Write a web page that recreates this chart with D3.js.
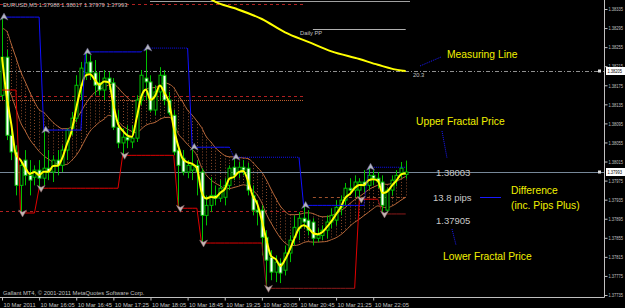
<!DOCTYPE html>
<html><head><meta charset="utf-8">
<script src="https://cdn.jsdelivr.net/npm/d3@7"></script>
<style>
html,body{margin:0;padding:0;background:#000;overflow:hidden;}
svg{display:block;}
text{font-family:"Liberation Sans",Arial,sans-serif;}
</style></head><body>
<svg id="c" width="625" height="308"></svg>
<script>
// ---------- DATA ----------
const opens = [1.38154,1.38234,1.38070,1.38035,1.37965,1.38018,1.37986,1.37982,1.37997,1.37980,
1.38001,1.37993,1.38018,1.38007,1.38039,1.38085,1.38106,1.38175,1.38201,1.38224,
1.38201,1.38180,1.38165,1.38190,1.38180,1.38087,1.38054,1.38066,1.38056,1.38064,
1.38144,1.38190,1.38182,1.38123,1.38161,1.38196,1.38144,1.38112,1.38039,1.38022,
1.37993,1.37997,1.38007,1.37993,1.37902,1.37923,1.37944,1.37938,1.37940,1.37965,
1.38003,1.37993,1.38003,1.38001,1.37944,1.37913,1.37913,1.37856,1.37814,1.37783,
1.37802,1.37787,1.37823,1.37856,1.37875,1.37896,1.37892,1.37888,1.37854,1.37860,
1.37871,1.37888,1.37892,1.37919,1.37934,1.37959,1.37955,1.37955,1.37972,1.37965,
1.37986,1.37980,1.37972,1.37913,1.37955,1.37976,1.37991,1.37988];
const highs = [1.38318,1.38249,1.38085,1.38049,1.38018,1.38039,1.38018,1.38007,1.38018,1.38081,
1.38039,1.38028,1.38039,1.38049,1.38085,1.38119,1.38196,1.38224,1.38245,1.38238,
1.38228,1.38203,1.38207,1.38203,1.38190,1.38123,1.38085,1.38091,1.38091,1.38154,
1.38207,1.38253,1.38196,1.38175,1.38213,1.38207,1.38161,1.38123,1.38049,1.38039,
1.38018,1.38045,1.38018,1.38001,1.37944,1.37982,1.37965,1.37976,1.37980,1.38007,
1.38024,1.38014,1.38018,1.38012,1.37965,1.37934,1.37923,1.37871,1.37829,1.37818,
1.37812,1.37839,1.37860,1.37902,1.37909,1.37923,1.37913,1.37896,1.37875,1.37881,
1.37902,1.37917,1.37934,1.37944,1.37970,1.37980,1.37986,1.37980,1.37997,1.38003,
1.37997,1.37993,1.37986,1.37959,1.37986,1.37997,1.38014,1.38017];
const lows = [1.38144,1.38060,1.38018,1.37944,1.37907,1.37965,1.37944,1.37965,1.37959,1.37965,
1.37976,1.37972,1.37986,1.37993,1.38018,1.38070,1.38098,1.38144,1.38186,1.38186,
1.38154,1.38154,1.38144,1.38165,1.38081,1.38043,1.38028,1.38043,1.38043,1.38056,
1.38133,1.38144,1.38119,1.38112,1.38144,1.38133,1.38112,1.38028,1.37917,1.37986,
1.37980,1.37976,1.37944,1.37844,1.37881,1.37909,1.37923,1.37930,1.37923,1.37955,
1.37976,1.37980,1.37986,1.37944,1.37902,1.37881,1.37818,1.37749,1.37766,1.37762,
1.37760,1.37776,1.37804,1.37839,1.37850,1.37875,1.37860,1.37839,1.37846,1.37850,
1.37854,1.37875,1.37881,1.37902,1.37923,1.37944,1.37940,1.37936,1.37951,1.37955,
1.37965,1.37959,1.37905,1.37907,1.37944,1.37963,1.37980,1.37979];
const closes = [1.38234,1.38070,1.38035,1.37965,1.38007,1.37986,1.37976,1.37997,1.37980,1.38001,
1.37993,1.38018,1.38007,1.38039,1.38081,1.38106,1.38175,1.38211,1.38222,1.38201,
1.38175,1.38165,1.38190,1.38180,1.38087,1.38054,1.38066,1.38060,1.38064,1.38144,
1.38196,1.38182,1.38123,1.38161,1.38196,1.38144,1.38117,1.38035,1.38007,1.37993,
1.38007,1.38007,1.37993,1.37902,1.37923,1.37944,1.37938,1.37959,1.37965,1.38001,
1.37986,1.38003,1.37997,1.37955,1.37913,1.37909,1.37856,1.37808,1.37783,1.37804,
1.37781,1.37823,1.37850,1.37877,1.37896,1.37888,1.37871,1.37854,1.37860,1.37871,
1.37888,1.37902,1.37919,1.37934,1.37959,1.37955,1.37972,1.37972,1.37965,1.37986,
1.37980,1.37972,1.37923,1.37955,1.37976,1.37986,1.38001,1.37993];

const upperFractalBars = [0, 9, 18, 31, 41, 50, 65, 79];
const lowerFractalBars = [4, 8, 26, 38, 43, 57, 77, 82];
const priorLowerLevel = 1.38165;
// band indicator levels carried in from before the first visible bar
const bandStartUpper = 1.38291, bandStartLower = 1.38200;

// long moving average (sparse readings: bar index, price)
const longMA = [[44,1.38362],[46,1.38350],[50,1.38337],[56,1.38314],[61,1.38286],[66,1.38266],[71,1.38246],[77,1.38230],[81,1.38218],[86,1.38206],[87,1.38205]];

const xTickBars = [0,8,16,24,32,40,48,56,64,72,80];
const xTickLabels = ["10 Mar 2011","10 Mar 16:05","10 Mar 16:45","10 Mar 17:25","10 Mar 18:05","10 Mar 18:45","10 Mar 19:25","10 Mar 20:05","10 Mar 20:45","10 Mar 21:25","10 Mar 22:05"];
const yTicks = [1.38335,1.38295,1.38255,1.38215,1.38175,1.38135,1.38095,1.38055,1.38015,1.37975,1.37935,1.37895,1.37855,1.37815,1.37775,1.37735];

const bidPrice = 1.37993;
const measuringLevel = 1.38205;
const dailyPP = 1.38293;
const prevLevelsRed = [1.38346, 1.38152, 1.37911];
const prevLevelOrange = 1.38144;
const topGrey = 1.38352;
const dayLevelBrown = 1.37940;
const titleText = "EURUSD,M5  1.37988 1.38017 1.37979 1.37993";
const upperFractalPrice = "1.38003", lowerFractalPrice = "1.37905", diffText = "13.8 pips", measureVal = "20.3";

// ---------- CHART ----------
const W = 625, H = 308, plotR = 604, plotB = 297;
const svg = d3.select("#c");
svg.append("rect").attr("width",W).attr("height",H).attr("fill","#000");
const n = closes.length;
const x = d3.scaleLinear().domain([0, 87]).range([2, 405.7]);
const y = d3.scaleLinear().domain([1.37735, 1.38335]).range([295, 9]);

svg.append("clipPath").attr("id","pc").append("rect").attr("x",0).attr("y",0).attr("width",plotR).attr("height",plotB);
const g = svg.append("g").attr("clip-path","url(#pc)");

function ema(arr, p, seed){ const a = 2/(p+1); const o=[]; let prev = seed;
  arr.forEach((v,i)=>{ const e = (prev==null) ? v : a*v+(1-a)*prev; o.push(e); prev = e; }); return o; }
const fast = ema(closes, 3, null);
const bandUp = ema(highs, 14, bandStartUpper);
const bandLo = ema(lows, 14, bandStartLower);

// horizontal levels
function hline(p, x1, x2, color, dash, w){
  g.append("line").attr("x1",x1).attr("x2",x2).attr("y1",Math.round(y(p))+0.5).attr("y2",Math.round(y(p))+0.5)
   .attr("stroke",color).attr("stroke-width",w||1).attr("stroke-dasharray",dash||null);
}
hline(topGrey, 150, 410, "#a0a0a0");
prevLevelsRed.forEach(p=>hline(p, 0, x(65), "#b02020", "3,3"));
hline(prevLevelOrange, 0, x(65), "#c06030", "1,1");
hline(dailyPP, x(67), x(87), "#b0b0b0");
hline(dayLevelBrown, x(67), x(87), "#a0522d", "3,3");
hline(measuringLevel, 0, plotR, "#909090", "4,2,1,2");

// hatch band
const hatch = g.append("g");
d3.range(n).forEach(i=>{
  hatch.append("line").attr("x1",Math.round(x(i))+0.5).attr("x2",Math.round(x(i))+0.5)
    .attr("y1",y(bandUp[i])).attr("y2",y(bandLo[i]))
    .attr("stroke","#8b4a2b").attr("stroke-dasharray","1,2");
});
const bl = d3.line().x((d,i)=>x(i)).y(d=>y(d)).curve(d3.curveMonotoneX);
g.append("path").attr("d",bl(bandUp)).attr("fill","none").attr("stroke","#b8683a").attr("stroke-width",1);
g.append("path").attr("d",bl(bandLo)).attr("fill","none").attr("stroke","#b8683a").attr("stroke-width",1);

// bid line
hline(bidPrice, 0, plotR, "#778899");

// candles
const cg = g.append("g");
d3.range(n).forEach(i=>{
  const cx = Math.round(x(i))+0.5;
  cg.append("line").attr("x1",cx).attr("x2",cx).attr("y1",y(highs[i])).attr("y2",y(lows[i])).attr("stroke","#00c000");
  const bear = closes[i] < opens[i];
  const top = y(Math.max(opens[i],closes[i])), bot = y(Math.min(opens[i],closes[i]));
  cg.append("rect").attr("x",cx-1.5).attr("y",top).attr("width",3).attr("height",Math.max(1,bot-top))
    .attr("fill", bear ? "#ffffff" : "#000000").attr("stroke","#00c000").attr("stroke-width",1);
});

// fast MA
g.append("path").attr("d",d3.line().x((d,i)=>x(i)).y(d=>y(d)).curve(d3.curveMonotoneX)(fast))
  .attr("fill","none").attr("stroke","#ffff00").attr("stroke-width",2);

// long MA
g.append("path").attr("d",d3.line().x(d=>x(d[0])).y(d=>y(d[1])).curve(d3.curveMonotoneX)(longMA))
  .attr("fill","none").attr("stroke","#ffff00").attr("stroke-width",2);

// fractal step lines, drawn segment by segment
function stepSegments(bars, src, prior, color, dottedSet, darkSet, darkColor){
  const starts = prior!=null ? [{b:0, v:prior, k:-1}] : [];
  bars.forEach((b,k)=>starts.push({b, v:src[b], k}));
  starts.forEach((s,j)=>{
    const end = j+1<starts.length ? starts[j+1] : null;
    const pts = [];
    const from = j>0 ? Math.max(0, s.b-1) : s.b;
    if (j>0) pts.push([starts[j-1].v, Math.max(0,s.b-1)]);
    const last = end ? end.b-1 : n-1;
    for (let i=s.b;i<=last;i++) pts.push([s.v,i]);
    const col = darkSet.includes(s.k) ? darkColor : color;
    g.append("path").attr("d", d3.line().x(d=>x(d[1])).y(d=>y(d[0]))(pts))
      .attr("fill","none").attr("stroke",col).attr("stroke-width",1)
      .attr("stroke-dasharray", dottedSet.includes(s.k) ? "1,1" : null);
  });
}
stepSegments(upperFractalBars, highs, null, "#1010ff", [3,5,7], [], null);
stepSegments(lowerFractalBars, lows, priorLowerLevel, "#e00000", [], [5,7], "#8b1a1a");

// arrows
upperFractalBars.forEach(b=>{
  const cx = x(b)+2, cy = y(highs[b]);
  g.append("path").attr("d",`M${cx},${cy-4}L${cx+4},${cy+3}L${cx},${cy+1}L${cx-4},${cy+3}Z`).attr("fill","#b4b4c4").attr("stroke","#606080").attr("stroke-width",0.5);
});
lowerFractalBars.forEach(b=>{
  const cx = x(b)+2, cy = y(lows[b]);
  g.append("path").attr("d",`M${cx},${cy+4}L${cx+4},${cy-3}L${cx},${cy-1}L${cx-4},${cy-3}Z`).attr("fill","#c4b4b4").attr("stroke","#806060").attr("stroke-width",0.5);
});

// axes
const axC = "#c0c0c0";
svg.append("line").attr("x1",0).attr("x2",plotR+0.5).attr("y1",plotB+0.5).attr("y2",plotB+0.5).attr("stroke",axC);
svg.append("line").attr("x1",plotR+0.5).attr("x2",plotR+0.5).attr("y1",0).attr("y2",plotB+0.5).attr("stroke",axC);
const sx = 0.72; // horizontal squeeze of the narrow price-scale font
const ya = svg.append("g").attr("transform",`translate(${plotR+0.5},0)`)
  .call(d3.axisRight(y).tickValues(yTicks).tickSize(3).tickFormat(d3.format(".5f")));
ya.select(".domain").remove();
ya.selectAll("line").attr("stroke",axC);
ya.selectAll("text").attr("fill",axC).attr("font-size",5.6).attr("font-family","Liberation Sans, Arial")
  .attr("x", 4/sx).attr("transform",`scale(${sx},1)`);
const xa = svg.append("g").attr("transform",`translate(0,${plotB+0.5})`)
  .call(d3.axisBottom(x).tickValues(xTickBars).tickSize(3).tickFormat((d,i)=>xTickLabels[i]));
xa.select(".domain").remove();
xa.selectAll("line").attr("stroke",axC);
xa.selectAll("text").attr("fill",axC).attr("font-size",5.8).attr("font-family","Liberation Sans, Arial")
  .attr("text-anchor","start").attr("dx",1).attr("y",5);

// price highlight labels
function priceBox(p, label){
  const yy = Math.round(y(p));
  svg.append("rect").attr("x",598).attr("y",yy-1.5).attr("width",3).attr("height",3).attr("fill","#e0e0e0");
  svg.append("rect").attr("x",606).attr("y",yy-4).attr("width",19).attr("height",8).attr("fill","#ffffff");
  svg.append("text").attr("x",607.5/sx).attr("y",yy+2.2).attr("font-size",5.6).attr("fill","#000")
    .attr("transform",`scale(${sx},1)`).text(label);
}
priceBox(measuringLevel, "1.38205");
priceBox(bidPrice, "1.37993");

// texts
svg.append("text").attr("x",3).attr("y",7).attr("font-size",5.8).attr("fill","#c0c0c0").text(titleText);
svg.append("text").attr("x",3).attr("y",295).attr("font-size",5.8).attr("fill","#c0c0c0").text("Gallant MT4, \u00A9 2001-2011 MetaQuotes Software Corp.");
svg.append("text").attr("x",300).attr("y",35).attr("font-size",5.8).attr("fill","#c0c0c0").text("Daily PP");
svg.append("text").attr("x",413).attr("y",77).attr("font-size",5.8).attr("fill","#c0c0c0").text(measureVal);

const yel = "#f0f000";
function ytext(t, xx, yy, fs, col){ svg.append("text").attr("x",xx).attr("y",yy).attr("font-size",fs).attr("fill",col).text(t); }
ytext("Measuring Line", 447, 57.5, 10.3, yel);
ytext("Upper Fractal Price", 416, 125, 10.3, yel);
ytext(upperFractalPrice, 436, 175.5, 9.5, "#c8c8c8");
ytext(diffText, 433, 200.5, 9.5, "#c8c8c8");
ytext("Difference", 511, 193.5, 10.3, yel);
ytext("(inc. Pips Plus)", 511, 209, 10.3, yel);
ytext(lowerFractalPrice, 436, 223.5, 9.5, "#c8c8c8");
ytext("Lower Fractal Price", 443, 260, 10.3, yel);

// pointer lines
function pline(x1,y1,x2,y2,dash){ svg.append("line").attr("x1",x1).attr("y1",y1).attr("x2",x2).attr("y2",y2).attr("stroke","#1a1aff").attr("stroke-dasharray",dash||null); }
pline(420,66,441,57,"1,1");
pline(442,131,447,158,"1,1");
pline(480,197.5,501,197.5);
pline(452,229,456,245,"1,1");
</script>
</body></html>
